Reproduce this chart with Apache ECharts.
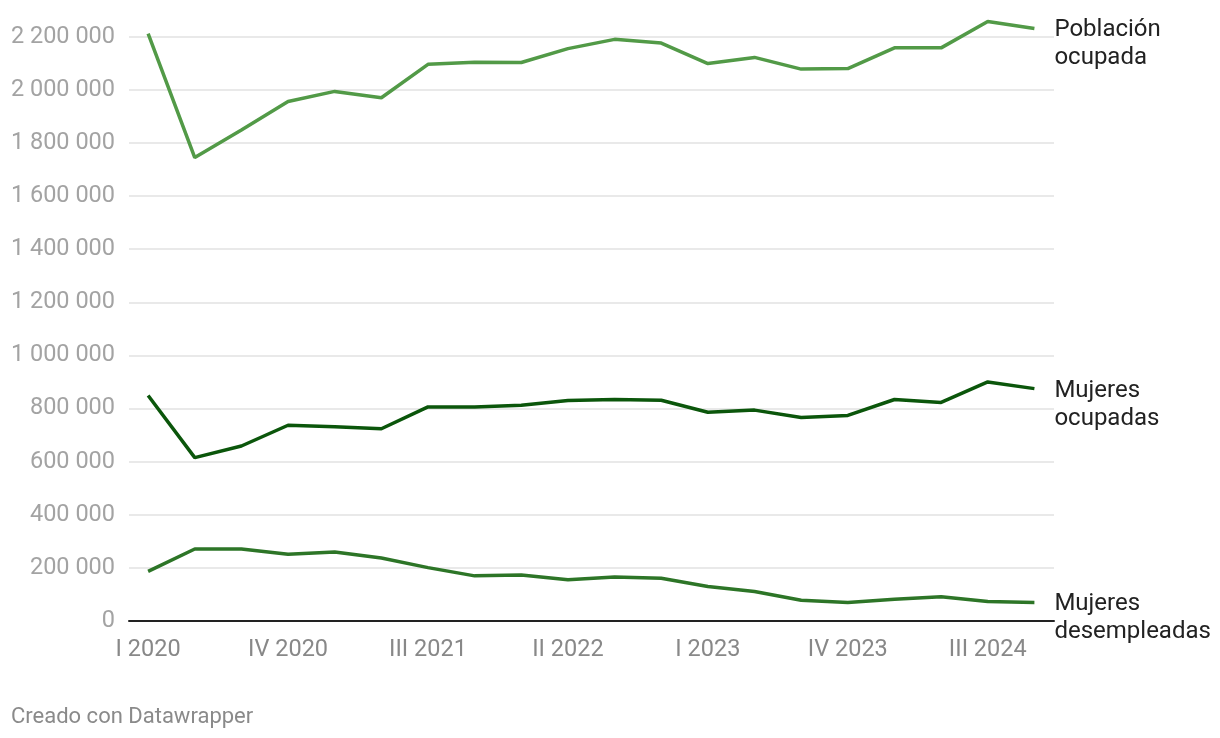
<!DOCTYPE html>
<html>
<head>
<meta charset="utf-8">
<script src="https://cdn.jsdelivr.net/npm/echarts@6/dist/echarts.min.js"></script>
<style>
html,body{margin:0;padding:0;background:#fff;}
#chart{width:1220px;height:738px;}
</style>
</head>
<body>
<div id="chart"></div>
<script>
const categories = ["I 2020","II 2020","III 2020","IV 2020","I 2021","II 2021","III 2021","IV 2021","I 2022","II 2022","III 2022","IV 2022","I 2023","II 2023","III 2023","IV 2023","I 2024","II 2024","III 2024","IV 2024"];
const poblacionOcupada = [2212000,1745000,1849000,1956000,1994000,1970000,2096000,2104000,2103000,2155000,2190000,2176000,2099000,2122000,2078000,2080000,2158000,2158000,2257000,2231000];
const mujeresOcupadas = [849000,615000,659000,737000,731000,724000,806000,806000,812000,830000,834000,831000,786000,794000,766000,774000,834000,823000,900000,875000];
const mujeresDesempleadas = [187000,271000,271000,251000,260000,237000,201000,170000,173000,155000,166000,161000,130000,111000,78000,70000,82000,91000,73000,70000];
const xTickIndexes = [0,3,6,9,12,15,18];
const yTicks = [0,200000,400000,600000,800000,1000000,1200000,1400000,1600000,1800000,2000000,2200000];
const seriesNames = ["Población\nocupada","Mujeres\nocupadas","Mujeres\ndesempleadas"];
const seriesColors = ["#529a47","#0b560b","#2d7527"];

function fmt(v){
  return String(Math.round(v)).replace(/\B(?=(\d{3})+(?!\d))/g, ' ');
}
const allSeries = [poblacionOcupada, mujeresOcupadas, mujeresDesempleadas];
const chart = echarts.init(document.getElementById('chart'));
chart.setOption({
  animation:false,
  textStyle:{fontFamily:'Roboto'},
  grid:{left:129,right:166,top:36.7,bottom:117,containLabel:false},
  xAxis:{
    type:'value', min:-0.41, max:19.42,
    splitLine:{show:false},
    axisLine:{show:true,onZero:false,lineStyle:{color:'#222',width:2}},
    axisTick:{show:false},
    axisLabel:{
      customValues:xTickIndexes,
      formatter:(v)=>categories[Math.round(v)],
      color:'#888',fontSize:23.5,fontFamily:'Roboto',margin:17
    }
  },
  yAxis:{
    type:'value', min:0, max:2200000, interval:200000,
    axisLine:{show:false}, axisTick:{show:false},
    splitLine:{lineStyle:{color:'#e2e2e2',width:1.5}},
    axisLabel:{formatter:(v)=>fmt(v),color:'#a3a3a3',fontSize:23.5,fontFamily:'Roboto',margin:14}
  },
  series: allSeries.map((arr,k)=>({
    type:'line',
    name:seriesNames[k],
    data:arr.map((v,i)=>[i,v]),
    clip:false,
    showSymbol:false,
    symbol:'none',
    lineStyle:{color:seriesColors[k],width:3.5},
    itemStyle:{color:seriesColors[k]},
    z: 3-k,
    endLabel:{
      show:true,
      formatter:'{a}',
      color:'#222',
      fontSize:24,
      fontFamily:'Roboto',
      lineHeight:28,
      distance:20,
      offset:[0,16]
    }
  })),
  graphic:[{
    type:'text', left:11, top:706,
    style:{text:'Creado con Datawrapper',fill:'#8a8a8a',fontSize:22,fontFamily:'Roboto'}
  }]
});
</script>
</body>
</html>
